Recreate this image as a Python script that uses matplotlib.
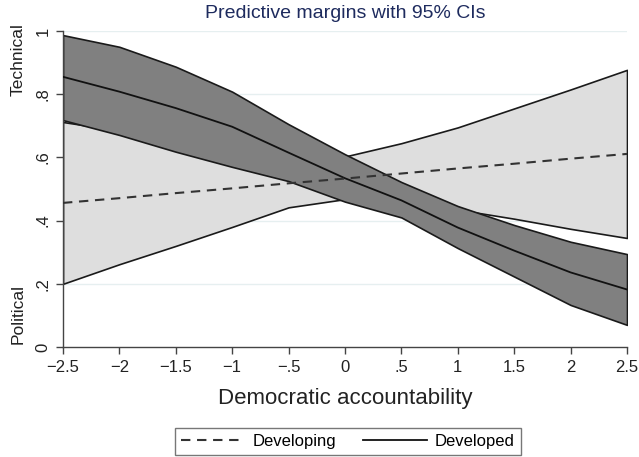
import numpy as np
import matplotlib
matplotlib.use("Agg")
import matplotlib.pyplot as plt

plt.rcParams['font.family'] = ['Liberation Sans', 'DejaVu Sans']

# democratic accountability grid
x = [-2.5, -2, -1.5, -1, -0.5, 0, 0.5, 1, 1.5, 2, 2.5]

# developing countries (dashed)
dev_ing_mean = [0.456, 0.471, 0.487, 0.502, 0.518, 0.533, 0.549, 0.565, 0.580, 0.596, 0.611]
dev_ing_hi = [0.712, 0.685, 0.660, 0.635, 0.615, 0.603, 0.645, 0.695, 0.755, 0.815, 0.877]
dev_ing_lo = [0.200, 0.262, 0.320, 0.380, 0.442, 0.468, 0.455, 0.435, 0.406, 0.374, 0.345]

# developed countries (solid)
dev_ed_mean = [0.855, 0.808, 0.756, 0.697, 0.615, 0.534, 0.464, 0.378, 0.305, 0.236, 0.182]
dev_ed_hi = [0.987, 0.950, 0.887, 0.808, 0.705, 0.610, 0.522, 0.446, 0.386, 0.333, 0.294]
dev_ed_lo = [0.718, 0.671, 0.618, 0.570, 0.525, 0.460, 0.410, 0.313, 0.223, 0.133, 0.070]

xticks = [-2.5, -2, -1.5, -1, -0.5, 0, 0.5, 1, 1.5, 2, 2.5]
xticklabels = ["\u22122.5", "\u22122", "\u22121.5", "\u22121", "\u2212.5", "0", ".5", "1", "1.5", "2", "2.5"]
yticks = [0, 0.2, 0.4, 0.6, 0.8, 1]
yticklabels = ["0", ".2", ".4", ".6", ".8", "1"]

fig = plt.figure(figsize=(6.39, 4.57), dpi=100)
ax = fig.add_axes([63/639, 1-347/457, 564/639, 316/457])

for yv in yticks[1:]:
    ax.axhline(yv, color="#e6eff0", lw=1.0, zorder=0)

edge = "#1a1a1a"
ax.fill_between(x, dev_ing_lo, dev_ing_hi, facecolor="#dedede", edgecolor=edge, lw=1.2, zorder=1)
ax.fill_between(x, dev_ed_lo, dev_ed_hi, facecolor="#808080", edgecolor=edge, lw=1.2, zorder=2)
ax.plot(x, dev_ed_mean, color="#111111", lw=1.3, zorder=3, label="Developed")
ax.plot(x, dev_ing_mean, color="#333333", lw=1.5, ls=(0, (4.5, 3.2)), zorder=4, label="Developing")

ax.set_xlim(-2.5, 2.5)
ax.set_ylim(0, 1)
ax.set_xticks(xticks)
ax.set_xticklabels(xticklabels, fontsize=12, color="#222222")
ax.set_yticks(yticks)
ax.set_yticklabels(yticklabels, fontsize=12, rotation=90, va="center", color="#222222")
ax.tick_params(axis="both", length=5, width=1, color="#444444")
ax.tick_params(axis="x", pad=4)
ax.tick_params(axis="y", pad=4)

for s in ["top", "right"]:
    ax.spines[s].set_visible(False)
for s in ["left", "bottom"]:
    ax.spines[s].set_color("#444444")
    ax.spines[s].set_linewidth(1.0)

ax.set_xlabel("Democratic accountability", fontsize=16, color="#222222", labelpad=10)
fig.text(345/639, 1-14/457, "Predictive margins with 95% CIs", fontsize=14,
         color="#1e2b5e", ha="center", va="center")
fig.text(18/639, 1-60/457, "Technical", fontsize=12.5, rotation=90, ha="center", va="center", color="#222222")
fig.text(18/639, 1-314/457, "Political", fontsize=12.5, rotation=90, ha="center", va="center", color="#222222")

h, l = ax.get_legend_handles_labels()
leg = fig.legend([h[1], h[0]], [l[1], l[0]], loc="center", bbox_to_anchor=(348/639, 1-441.5/457),
                 ncol=2, fontsize=12, frameon=True, fancybox=False, handlelength=3.8,
                 handletextpad=0.5, columnspacing=1.6, borderpad=0.35)
leg.get_frame().set_edgecolor("#555555")
leg.get_frame().set_linewidth(1.0)

fig.savefig("out.png", dpi=100)
